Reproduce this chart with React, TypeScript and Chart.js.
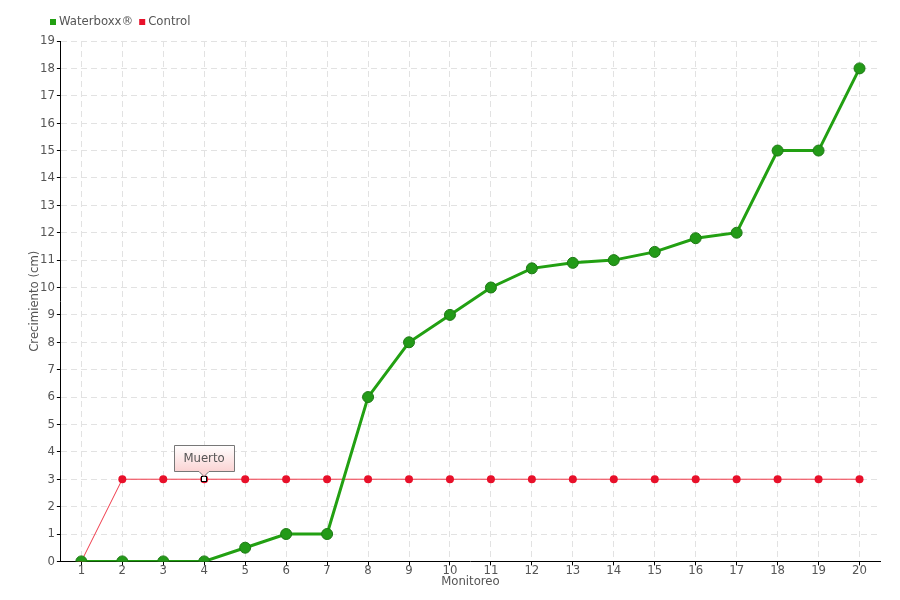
import React, { useEffect, useRef } from "react";
import { Chart, registerables } from "chart.js";
Chart.register(...registerables);

const categories = ["1","2","3","4","5","6","7","8","9","10","11","12","13","14","15","16","17","18","19","20"];
const waterboxx = [0,0,0,0,0.5,1,1,6,8,9,10,10.7,10.9,11,11.3,11.8,12,15,15,18];
const control = [0,3,3,3,3,3,3,3,3,3,3,3,3,3,3,3,3,3,3,3];
const seriesNames = ["Waterboxx®", "Control"];
const seriesColors = ["#22a012", "#e8102a"];
const xTitle = "Monitoreo";
const yTitle = "Crecimiento (cm)";
const annotationIndex = 3;
const annotationText = "Muerto";

const FONT = "'DejaVu Sans Condensed', 'Liberation Sans Narrow', sans-serif";

const legendPlugin = {
  id: "customLegend",
  afterDraw(chart: any) {
    const ctx = chart.ctx;
    ctx.save();
    ctx.font = "13px " + FONT;
    ctx.textBaseline = "middle";
    ctx.textAlign = "left";
    let x = 50;
    const y = 22;
    seriesNames.forEach((name, i) => {
      ctx.fillStyle = seriesColors[i];
      ctx.fillRect(x, y - 3, 6, 6);
      ctx.fillStyle = "#555";
      ctx.fillText(name, x + 9, y);
      x += 9 + ctx.measureText(name).width + 6;
    });
    const ca = chart.chartArea;
    ctx.fillStyle = "#555";
    ctx.textAlign = "center";
    ctx.fillText(xTitle, (ca.left + ca.right) / 2, 582);
    ctx.translate(35, (ca.top + ca.bottom) / 2);
    ctx.rotate(-Math.PI / 2);
    ctx.fillText(yTitle, 0, 0);
    ctx.restore();
  },
};

const tooltipPlugin = {
  id: "muerto",
  afterDatasetsDraw(chart: any) {
    const meta = chart.getDatasetMeta(1);
    const pt = meta.data[annotationIndex];
    if (!pt) return;
    const ctx = chart.ctx;
    const x = Math.round(pt.x), y = Math.round(pt.y);
    ctx.save();
    ctx.beginPath();
    ctx.arc(x, y, 3.5, 0, Math.PI * 2);
    ctx.fillStyle = "#e8102a";
    ctx.fill();
    ctx.fillStyle = "#000";
    ctx.fillRect(x - 3, y - 3, 6, 6);
    ctx.fillStyle = "#fff";
    ctx.fillRect(x - 2, y - 2, 4, 4);
    const w = 60, h = 26;
    const bx = x - 30, by = y - 34;
    const g = ctx.createLinearGradient(0, by, 0, by + h);
    g.addColorStop(0, "#ffffff");
    g.addColorStop(1, "#fbd4d4");
    ctx.beginPath();
    ctx.moveTo(bx + 0.5, by + 0.5);
    ctx.lineTo(bx + w + 0.5, by + 0.5);
    ctx.lineTo(bx + w + 0.5, by + h + 0.5);
    ctx.lineTo(x + 5, by + h + 0.5);
    ctx.lineTo(x, by + h + 5.5);
    ctx.lineTo(x - 5, by + h + 0.5);
    ctx.lineTo(bx + 0.5, by + h + 0.5);
    ctx.closePath();
    ctx.fillStyle = g;
    ctx.fill();
    ctx.strokeStyle = "#777";
    ctx.lineWidth = 1;
    ctx.stroke();
    ctx.fillStyle = "#555";
    ctx.font = "13px " + FONT;
    ctx.textAlign = "center";
    ctx.textBaseline = "middle";
    ctx.fillText(annotationText, x, by + h / 2 + 1);
    ctx.restore();
  },
};

export default function App() {
  const ref = useRef<HTMLCanvasElement>(null);
  useEffect(() => {
    const chart = new Chart(ref.current!, {
      type: "line",
      data: {
        labels: categories,
        datasets: [
          {
            label: seriesNames[0],
            data: waterboxx,
            borderColor: "#22a012",
            backgroundColor: "#22a012",
            borderWidth: 3,
            pointRadius: 5.5,
            pointBackgroundColor: "#239a18",
            pointBorderColor: "#1d7a14",
            pointBorderWidth: 1,
            tension: 0,
          },
          {
            label: seriesNames[1],
            data: control,
            borderColor: "#f03a4a",
            backgroundColor: "#e8102a",
            borderWidth: 1,
            pointRadius: 4,
            pointBackgroundColor: "#e8102a",
            pointBorderColor: "#e8102a",
            pointBorderWidth: 0,
            tension: 0,
          },
        ],
      },
      options: {
        animation: false,
        responsive: false,
        maintainAspectRatio: false,
        layout: { padding: { left: 38, right: 20, top: 41, bottom: 25 } },
        plugins: {
          legend: { display: false },
          tooltip: { enabled: false },
        },
        scales: {
          x: {
            offset: true,
            grid: { color: "#e2e2e2", tickColor: "#000", tickLength: 4, offset: false },
            border: { color: "#000", width: 1, dash: [6, 4] },
            ticks: { color: "#555", font: { family: FONT, size: 13 }, padding: -3, autoSkip: false, maxRotation: 0 },
          },
          y: {
            min: 0,
            max: 19,
            grid: { color: "#e2e2e2", tickColor: "#000", tickLength: 4 },
            border: { color: "#000", width: 1, dash: [6, 4] },
            ticks: { stepSize: 1, color: "#555", font: { family: FONT, size: 13 }, padding: 2 },
          },
        },
      },
      plugins: [tooltipPlugin, legendPlugin],
    });
    return () => chart.destroy();
  }, []);
  return (
    <div style={{ margin: -8 }}>
      <canvas ref={ref} width={900} height={600} style={{ display: "block" }} />
    </div>
  );
}
